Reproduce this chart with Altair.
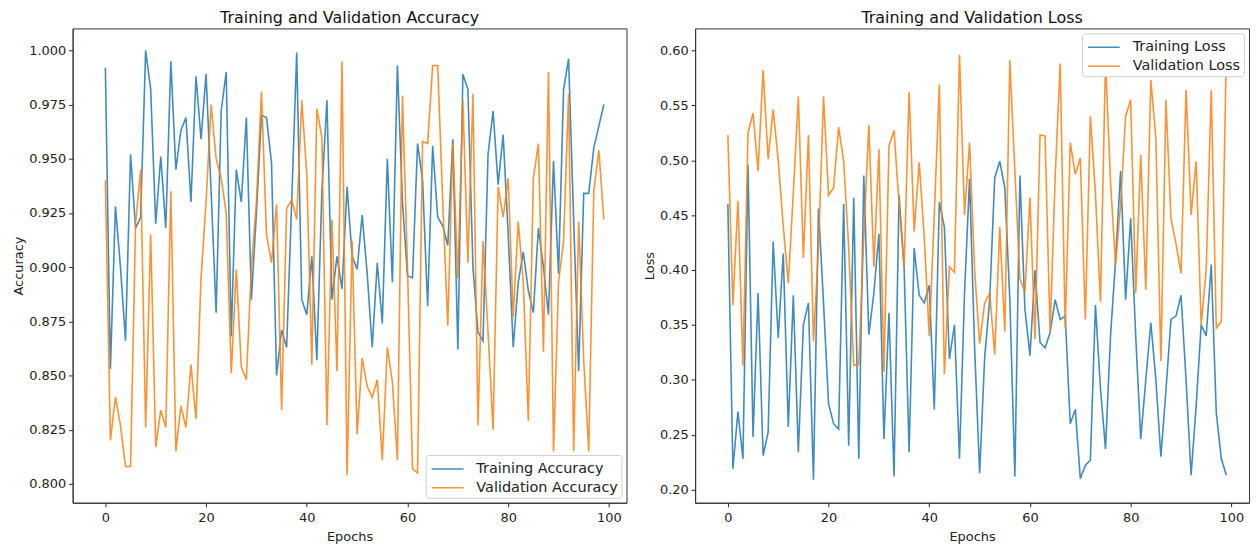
import altair as alt
import pandas as pd

epochs = list(range(100))

train_acc = [0.992, 0.853, 0.928, 0.900, 0.866, 0.952, 0.918, 0.923, 1.000, 0.982,
             0.920, 0.951, 0.918, 0.995, 0.945, 0.963, 0.969, 0.930, 0.988, 0.959,
             0.989, 0.935, 0.879, 0.972, 0.990, 0.868, 0.945, 0.930, 0.969, 0.885,
             0.925, 0.970, 0.969, 0.948, 0.850, 0.871, 0.863, 0.930, 0.999, 0.885,
             0.878, 0.905, 0.857, 0.935, 0.977, 0.885, 0.905, 0.890, 0.937, 0.905,
             0.899, 0.924, 0.897, 0.863, 0.902, 0.874, 0.950, 0.893, 0.993, 0.930,
             0.896, 0.895, 0.957, 0.940, 0.882, 0.956, 0.923, 0.919, 0.910, 0.959,
             0.862, 0.989, 0.982, 0.900, 0.870, 0.866, 0.952, 0.972, 0.938, 0.961,
             0.915, 0.863, 0.893, 0.907, 0.889, 0.879, 0.918, 0.900, 0.878, 0.949,
             0.897, 0.982, 0.996, 0.922, 0.852, 0.934, 0.934, 0.955, 0.965, 0.975]

val_acc = [0.940, 0.820, 0.840, 0.827, 0.808, 0.808, 0.920, 0.945, 0.826, 0.915,
           0.817, 0.834, 0.826, 0.935, 0.815, 0.836, 0.826, 0.855, 0.830, 0.895,
           0.930, 0.975, 0.950, 0.941, 0.925, 0.851, 0.899, 0.854, 0.848, 0.900,
           0.930, 0.981, 0.915, 0.902, 0.929, 0.834, 0.927, 0.931, 0.922, 0.977,
           0.943, 0.855, 0.973, 0.960, 0.827, 0.922, 0.852, 0.995, 0.804, 0.912,
           0.823, 0.858, 0.845, 0.840, 0.848, 0.811, 0.863, 0.847, 0.811, 0.979,
           0.900, 0.807, 0.805, 0.958, 0.957, 0.993, 0.993, 0.930, 0.873, 0.957,
           0.895, 0.977, 0.902, 0.980, 0.827, 0.912, 0.870, 0.825, 0.937, 0.923,
           0.941, 0.877, 0.921, 0.893, 0.829, 0.941, 0.957, 0.861, 0.990, 0.815,
           0.893, 0.912, 0.980, 0.815, 0.921, 0.857, 0.815, 0.935, 0.954, 0.922]

train_loss = [0.460, 0.219, 0.271, 0.228, 0.496, 0.248, 0.379, 0.231, 0.252, 0.426,
              0.338, 0.415, 0.257, 0.377, 0.234, 0.350, 0.370, 0.209, 0.456, 0.370,
              0.278, 0.260, 0.255, 0.460, 0.240, 0.466, 0.228, 0.486, 0.341, 0.379,
              0.433, 0.246, 0.361, 0.212, 0.468, 0.403, 0.234, 0.420, 0.377, 0.370,
              0.386, 0.273, 0.462, 0.439, 0.319, 0.350, 0.228, 0.379, 0.483, 0.330,
              0.215, 0.320, 0.373, 0.484, 0.499, 0.475, 0.373, 0.212, 0.486, 0.364,
              0.322, 0.400, 0.334, 0.329, 0.343, 0.373, 0.355, 0.358, 0.260, 0.273,
              0.210, 0.222, 0.227, 0.368, 0.292, 0.237, 0.340, 0.409, 0.490, 0.373,
              0.447, 0.340, 0.246, 0.300, 0.352, 0.300, 0.230, 0.290, 0.355, 0.358,
              0.377, 0.300, 0.213, 0.276, 0.350, 0.340, 0.405, 0.270, 0.228, 0.213]

val_loss = [0.523, 0.368, 0.463, 0.313, 0.525, 0.543, 0.490, 0.582, 0.501, 0.546,
            0.500, 0.440, 0.388, 0.470, 0.558, 0.411, 0.523, 0.335, 0.420, 0.558,
            0.468, 0.475, 0.530, 0.499, 0.420, 0.313, 0.314, 0.430, 0.532, 0.403,
            0.510, 0.307, 0.513, 0.527, 0.460, 0.402, 0.562, 0.435, 0.498, 0.430,
            0.340, 0.450, 0.569, 0.305, 0.403, 0.398, 0.596, 0.450, 0.516, 0.400,
            0.333, 0.370, 0.379, 0.323, 0.439, 0.344, 0.591, 0.490, 0.392, 0.380,
            0.466, 0.337, 0.523, 0.522, 0.343, 0.484, 0.588, 0.347, 0.516, 0.487,
            0.502, 0.355, 0.540, 0.470, 0.371, 0.591, 0.480, 0.405, 0.460, 0.540,
            0.555, 0.379, 0.505, 0.382, 0.573, 0.520, 0.317, 0.555, 0.447, 0.424,
            0.397, 0.564, 0.450, 0.499, 0.350, 0.400, 0.564, 0.347, 0.353, 0.599]

acc_names = ["Training Accuracy", "Validation Accuracy"]
loss_names = ["Training Loss", "Validation Loss"]
acc_ticks = [0.800, 0.825, 0.850, 0.875, 0.900, 0.925, 0.950, 0.975, 1.000]
loss_ticks = [0.20, 0.25, 0.30, 0.35, 0.40, 0.45, 0.50, 0.55, 0.60]
x_ticks = [0, 20, 40, 60, 80, 100]
colors = ["#1f77b4", "#ff7f0e"]

acc_df = pd.DataFrame({
    "Epoch": epochs + epochs,
    "Value": train_acc + val_acc,
    "Series": [acc_names[0]] * len(epochs) + [acc_names[1]] * len(epochs),
})
loss_df = pd.DataFrame({
    "Epoch": epochs + epochs,
    "Value": train_loss + val_loss,
    "Series": [loss_names[0]] * len(epochs) + [loss_names[1]] * len(epochs),
})

FONT = "DejaVu Sans"


def panel(df, title, ytitle, ydomain, yticks, fmt, names, orient, width):
    return alt.Chart(df, title=alt.Title(title, fontSize=16, fontWeight="normal",
                                         font=FONT, offset=2, color="#111")).mark_line(
        strokeWidth=1.6, opacity=0.85
    ).encode(
        x=alt.X("Epoch:Q",
                scale=alt.Scale(domain=[-6.5, 103.5], nice=False, zero=False),
                axis=alt.Axis(values=x_ticks, title="Epochs", grid=False, format="d",
                              labelPadding=5, titlePadding=6)),
        y=alt.Y("Value:Q",
                scale=alt.Scale(domain=ydomain, nice=False, zero=False),
                axis=alt.Axis(values=yticks, format=fmt, title=ytitle, grid=False,
                              titlePadding=3)),
        color=alt.Color("Series:N",
                        scale=alt.Scale(domain=names, range=colors),
                        legend=alt.Legend(title=None, orient=orient, offset=5,
                                          fillColor="white", strokeColor="#d0d0d0",
                                          padding=3, cornerRadius=3,
                                          symbolType="M-1.6,0H1.6", symbolSize=400,
                                          symbolOffset=8,
                                          symbolStrokeWidth=1.6, symbolOpacity=0.85,
                                          labelFontSize=14.5, labelFont=FONT,
                                          labelColor="#222", rowPadding=1,
                                          labelOffset=18)),
    ).properties(width=width, height=477)


left = panel(acc_df, "Training and Validation Accuracy", "Accuracy",
             [0.7913, 1.0101], acc_ticks, ".3f", acc_names, "bottom-right", 557)
right = panel(loss_df, "Training and Validation Loss", "Loss",
              [0.188, 0.620], loss_ticks, ".2f", loss_names, "top-right", 557)

chart = alt.hconcat(left, right, spacing=15).resolve_scale(color="independent").properties(
    padding={"left": 4, "top": 0, "right": 0, "bottom": 5}
).configure_view(
    stroke="#333333", strokeWidth=1
).configure_axis(
    labelFont=FONT, labelFontSize=13, labelColor="#222",
    titleFont=FONT, titleFontSize=13, titleFontWeight="normal", titleColor="#222",
    tickColor="#222", domainColor="#333333", tickSize=4, labelPadding=3
)

chart.save("out.html", embed_options={"renderer": "svg", "actions": False})
